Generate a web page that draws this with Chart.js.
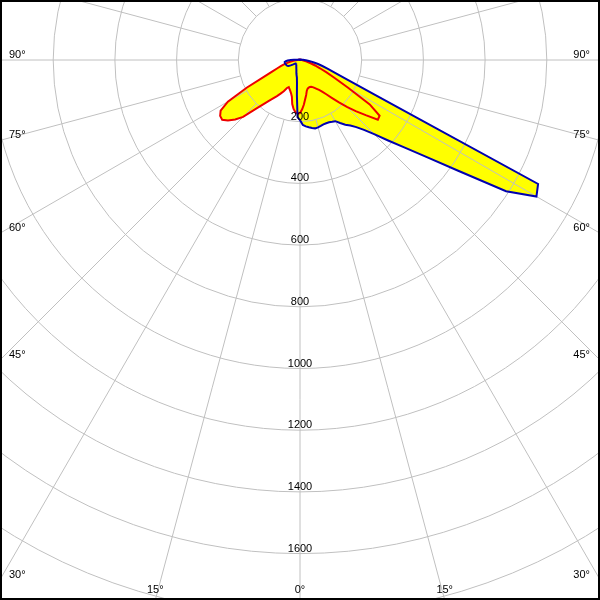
<!DOCTYPE html>
<html>
<head>
<meta charset="utf-8">
<script src="https://cdn.jsdelivr.net/npm/chart.js@4"></script>
<style>
  html, body { margin: 0; padding: 0; background: #fff; }
  #frame { position: relative; width: 600px; height: 600px; overflow: hidden; background: #fff; }
  #frame canvas { position: absolute; left: -317px; top: -557px; }
  #border { position: absolute; left: 0; top: 0; width: 600px; height: 600px; box-sizing: border-box; border: 2px solid #000; pointer-events: none; }
</style>
</head>
<body>
<div id="frame">
  <canvas id="canvas" width="1234" height="1234"></canvas>
  <div id="border"></div>
</div>
<script>
// gamma angles, 0 = straight down, negative = left, positive = right
const gammaAngles = Array.from({length: 144}, (_, i) => -180 + i * 2.5);

// C0-C180 plane (red), one value per gamma angle, from -180 to 177.5
const redValues = [
  2, 2, 2, 2, 2, 2, 2, 2, 2, 2, 2, 2,                     // -180 .. -152.5
  2, 2, 2, 2, 2, 2, 2, 2, 2, 2, 2, 2,                     // -150 .. -122.5
  2, 2, 2, 2, 3, 3, 3, 4, 4, 5, 6, 7,                     // -120 .. -92.5
  8, 12, 18, 25, 33, 42, 52, 64, 78, 98, 128, 195,        // -90 .. -62.5
  270, 305, 316, 318, 305, 285, 261, 218, 190, 168, 152, 139, // -60 .. -32.5
  126, 114, 100, 95, 100, 105, 112, 122, 145, 160, 170, 174,  // -30 .. -2.5
  172, 160, 145, 128, 115, 102, 96, 94, 93, 94, 97, 102,      // 0 .. 27.5
  108, 115, 125, 140, 160, 185, 215, 245, 278, 318, 315, 268, // 30 .. 57.5
  180, 128, 95, 70, 52, 38, 28, 20, 14, 11, 8, 6,             // 60 .. 87.5
  5, 4, 4, 3, 3, 2, 2, 2, 2, 2, 2, 2,                     // 90 .. 117.5
  2, 2, 2, 2, 2, 2, 2, 2, 2, 2, 2, 2,                     // 120 .. 147.5
  2, 2, 2, 2, 2, 2, 2, 2, 2, 2, 2, 2                      // 150 .. 177.5
];

// C90-C270 plane (blue)
const blueValues = [
  2, 2, 2, 2, 2, 2, 2, 2, 2, 2, 2, 2,                     // -180 .. -152.5
  2, 2, 2, 2, 2, 2, 2, 2, 2, 2, 2, 2,                     // -150 .. -122.5
  2, 2, 2, 2, 2, 3, 3, 4, 5, 7, 12, 20,                   // -120 .. -92.5
  30, 40, 46, 50, 50, 50, 49, 48, 47, 46, 45, 42,         // -90 .. -62.5
  35, 28, 22, 19, 18, 18, 18, 18, 19, 20, 21, 22,         // -60 .. -32.5
  24, 26, 28, 31, 34, 39, 45, 51, 58, 75, 115, 185,       // -30 .. -2.5
  195, 211, 216, 220, 224, 227, 226, 224, 222, 222, 223, 226, // 0 .. 27.5
  229, 242, 256, 268, 284, 307, 340, 385, 441, 516, 626, 792, // 30 .. 57.5
  885, 870, 270, 166, 121, 95, 75, 60, 46, 35, 26, 19,        // 60 .. 87.5
  14, 10, 7, 5, 4, 3, 3, 2, 2, 2, 2, 2,                   // 90 .. 117.5
  2, 2, 2, 2, 2, 2, 2, 2, 2, 2, 2, 2,                     // 120 .. 147.5
  2, 2, 2, 2, 2, 2, 2, 2, 2, 2, 2, 2                      // 150 .. 177.5
];

const ringLabels = [200, 400, 600, 800, 1000, 1200, 1400, 1600];
const angleLabels = [0, 15, 30, 45, 60, 75, 90];

// radar goes clockwise from the top, so reorder: top, right, bottom, left
function toChart(arr) {
  const n = arr.length;
  return arr.map((_, k) => arr[(n - k) % n]);
}

// visible window relative to the pole
const VIEW = { left: 300, right: 300, top: 60, bottom: 540 };
const GRID = '#c0c0c0';

const photoPlugin = {
  id: 'photoPlugin',
  beforeDatasetsDraw(chart) {
    const r = chart.scales.r;
    const ctx = chart.ctx;
    const d0 = r.getDistanceFromCenterForValue(200);
    const d1 = r.getDistanceFromCenterForValue(r.max);
    ctx.save();
    ctx.strokeStyle = GRID;
    ctx.lineWidth = 1;
    for (let i = 0; i < gammaAngles.length; i += 6) {
      const a = r.getPointPosition(i, d0);
      const b = r.getPointPosition(i, d1);
      ctx.beginPath();
      ctx.moveTo(a.x, a.y);
      ctx.lineTo(b.x, b.y);
      ctx.stroke();
    }
    ctx.restore();
  },
  afterDatasetsDraw(chart) {
    const r = chart.scales.r;
    const ctx = chart.ctx;
    ctx.save();
    ctx.font = '11px "Liberation Sans", Arial, sans-serif';
    ctx.fillStyle = '#000';
    ctx.textBaseline = 'alphabetic';
    ctx.textAlign = 'center';
    ringLabels.forEach(v => {
      const d = r.getDistanceFromCenterForValue(v);
      ctx.fillText(String(v), r.xCenter, r.yCenter + d - 2);
    });

    angleLabels.forEach(deg => {
      const rad = deg * Math.PI / 180;
      const sides = deg === 0 ? [1] : [-1, 1];
      sides.forEach(side => {
        const dx = Math.sin(rad) * side;
        const dy = Math.cos(rad);
        const tSide = Math.abs(dx) > 1e-9 ? VIEW.left / Math.abs(dx) : Infinity;
        const tBottom = dy > 1e-9 ? VIEW.bottom / dy : Infinity;
        const text = deg + '\u00b0';
        if (tSide < tBottom) {
          const y = r.yCenter + dy * tSide;
          if (side < 0) {
            ctx.textAlign = 'left';
            ctx.fillText(text, r.xCenter - VIEW.left + 9, y - 2);
          } else {
            ctx.textAlign = 'right';
            ctx.fillText(text, r.xCenter + VIEW.right - 10, y - 2);
          }
        } else {
          const x = r.xCenter + dx * tBottom;
          ctx.textAlign = 'center';
          ctx.fillText(text, x, r.yCenter + VIEW.bottom - 7);
        }
      });
    });
    ctx.restore();
  }
};

new Chart(document.getElementById('canvas'), {
  type: 'radar',
  data: {
    labels: toChart(gammaAngles.map(g => g + '\u00b0')),
    datasets: [
      {
        label: 'C90-C270',
        data: toChart(blueValues),
        borderColor: '#0000b0',
        borderWidth: 2,
        backgroundColor: '#ffff00',
        fill: 'origin',
        pointRadius: 0
      },
      {
        label: 'C0-C180',
        data: toChart(redValues),
        borderColor: '#ee0000',
        borderWidth: 2,
        backgroundColor: '#ffff00',
        fill: 'origin',
        pointRadius: 0
      }
    ]
  },
  options: {
    responsive: false,
    animation: false,
    events: [],
    elements: { line: { tension: 0 } },
    plugins: {
      legend: { display: false },
      tooltip: { enabled: false },
      filler: { drawTime: 'beforeDraw' }
    },
    scales: {
      r: {
        min: 0,
        max: 2000,
        startAngle: 0,
        ticks: { display: false, stepSize: 200 },
        grid: { circular: true, color: GRID, lineWidth: 1 },
        angleLines: { display: false },
        pointLabels: { display: false }
      }
    }
  },
  plugins: [photoPlugin]
});
</script>
</body>
</html>
